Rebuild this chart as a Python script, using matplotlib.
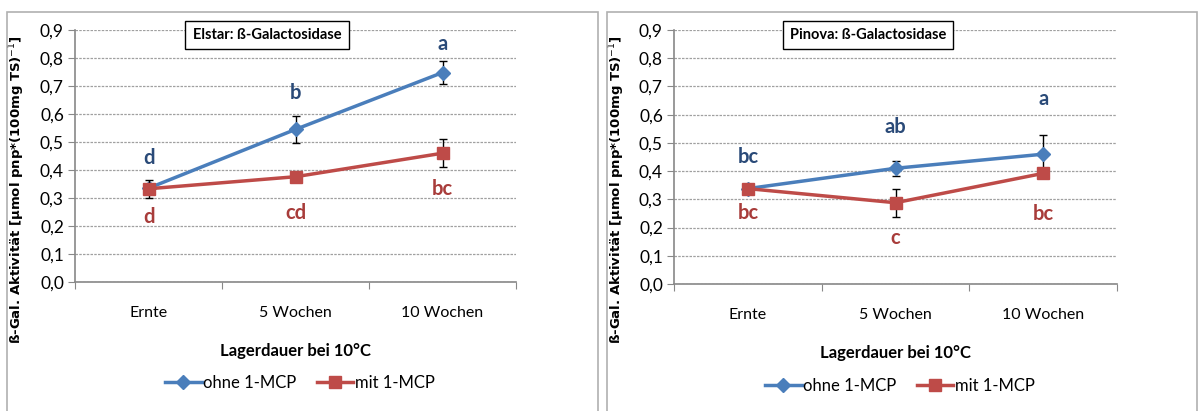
import matplotlib
matplotlib.use("Agg")
import matplotlib.pyplot as plt
from matplotlib.patches import Rectangle
from matplotlib.lines import Line2D

plt.rcParams['font.family'] = ['Lato', 'DejaVu Sans']

categories = ["Ernte", "5 Wochen", "10 Wochen"]
yticks = [0.0, 0.1, 0.2, 0.3, 0.4, 0.5, 0.6, 0.7, 0.8, 0.9]
ytick_labels = ["0,0", "0,1", "0,2", "0,3", "0,4", "0,5", "0,6", "0,7", "0,8", "0,9"]

elstar_ohne = [0.335, 0.545, 0.748]
elstar_ohne_err = [0.0, 0.047, 0.04]
elstar_mit = [0.333, 0.376, 0.46]
elstar_mit_err = [0.033, 0.0, 0.051]
elstar_ohne_letters = ["d", "b", "a"]
elstar_mit_letters = ["d", "cd", "bc"]
elstar_ohne_letter_y = [0.444, 0.674, 0.849]
elstar_mit_letter_y = [0.233, 0.248, 0.331]

pinova_ohne = [0.338, 0.41, 0.46]
pinova_ohne_err = [0.0, 0.027, 0.068]
pinova_mit = [0.338, 0.288, 0.392]
pinova_mit_err = [0.0, 0.05, 0.0]
pinova_ohne_letters = ["bc", "ab", "a"]
pinova_mit_letters = ["bc", "c", "bc"]
pinova_ohne_letter_y = [0.451, 0.557, 0.654]
pinova_mit_letter_y = [0.253, 0.162, 0.247]

titles = ["Elstar: ß-Galactosidase", "Pinova: ß-Galactosidase"]
xlabel = "Lagerdauer bei 10°C"
ylabel = "ß-Gal. Aktivität [µmol pnp*(100mg TS)$^{-1}$]"
legend_labels = ["ohne 1-MCP", "mit 1-MCP"]

BLUE = "#4a7ebb"
RED = "#be4b48"
BLUE_TXT = "#2a4a78"
RED_TXT = "#a83c3a"

fig = plt.figure(figsize=(11.98, 4.11), dpi=100)
W, H = 1198, 411

# panel borders
for (x0, x1) in [(7, 598), (607, 1197)]:
    fig.patches.append(Rectangle((x0 / W, -0.05), (x1 - x0) / W, (411 - 12) / H + 0.05,
                                 transform=fig.transFigure, fill=False,
                                 edgecolor="#b0b0b0", linewidth=1.2))

axes_px = [(75, 30, 441, 282), (674, 30, 443, 284)]  # left, top, width, bottom
title_x = [267, 868]
label_x = [27, 627]
data = [
    (elstar_ohne, elstar_ohne_err, elstar_mit, elstar_mit_err,
     elstar_ohne_letters, elstar_ohne_letter_y, elstar_mit_letters, elstar_mit_letter_y),
    (pinova_ohne, pinova_ohne_err, pinova_mit, pinova_mit_err,
     pinova_ohne_letters, pinova_ohne_letter_y, pinova_mit_letters, pinova_mit_letter_y),
]

for i, (lx, ty, wx, by) in enumerate(axes_px):
    ax = fig.add_axes([lx / W, 1 - by / H, wx / W, (by - ty) / H])
    o, oe, m, me, ol, oly, ml, mly = data[i]
    x = list(range(len(categories)))
    ax.set_xlim(-0.5, 2.5)
    ax.set_ylim(0, 0.9)
    ax.set_yticks(yticks)
    ax.set_yticklabels(ytick_labels, fontsize=12.5)
    ax.yaxis.grid(True, linestyle=(0, (2, 1)), color="#a0a0a0", linewidth=0.9)
    ax.set_axisbelow(True)
    for s in ["top", "right"]:
        ax.spines[s].set_visible(False)
    for s in ["left", "bottom"]:
        ax.spines[s].set_color("#888888")
        ax.spines[s].set_linewidth(1.2)
    ax.set_xticks([-0.5, 0.5, 1.5, 2.5])
    ax.set_xticklabels([])
    ax.set_xticks(x, minor=True)
    ax.set_xticklabels(categories, minor=True, fontsize=11.5)
    ax.tick_params(axis="x", which="minor", length=0, pad=17)
    ax.tick_params(axis="x", which="major", length=5, color="#888888", direction="out")
    ax.tick_params(axis="y", length=5, color="#888888", pad=3)

    ax.errorbar(x, o, yerr=oe, color=BLUE, marker="D", markersize=7, linewidth=2.5,
                ecolor="black", elinewidth=1, capsize=3, zorder=3)
    ax.errorbar(x, m, yerr=me, color=RED, marker="s", markersize=9, linewidth=2.5,
                ecolor="black", elinewidth=1, capsize=3, zorder=4)
    for xi, t, yy in zip(x, ol, oly):
        ax.text(xi, yy, t, color=BLUE_TXT, fontsize=14.5, fontweight="bold",
                ha="center", va="center")
    for xi, t, yy in zip(x, ml, mly):
        ax.text(xi, yy, t, color=RED_TXT, fontsize=14.5, fontweight="bold",
                ha="center", va="center")

    fig.text(title_x[i] / W, 1 - 35 / H, titles[i],
             ha="center", va="center", fontsize=10.5, fontweight="bold",
             bbox=dict(boxstyle="square,pad=0.5", facecolor="white", edgecolor="black", linewidth=1))
    ax.set_xlabel(xlabel, fontsize=12, fontweight="bold", labelpad=17)
    ax.set_ylabel(ylabel, fontsize=9.5, fontweight="bold", family="DejaVu Sans")
    ax.yaxis.set_label_coords((label_x[i] - lx) / wx, (by - 190) / (by - ty))

    handles = [Line2D([], [], color=BLUE, marker="D", markersize=7, linewidth=2.5),
               Line2D([], [], color=RED, marker="s", markersize=9, linewidth=2.5)]
    ax.legend(handles, legend_labels, loc="center", bbox_to_anchor=(0.51, -0.4),
              ncol=2, frameon=False, fontsize=12, handlelength=2.2, handletextpad=0.1,
              columnspacing=1.2)

fig.savefig("out.png", dpi=100)
